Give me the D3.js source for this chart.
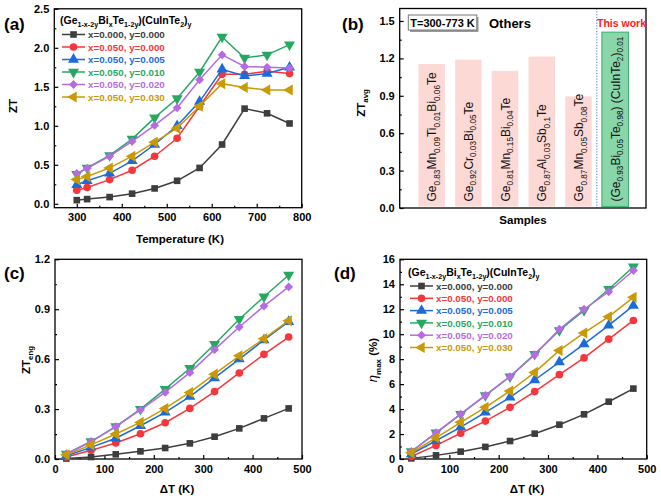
<!DOCTYPE html>
<html>
<head>
<meta charset="utf-8">
<script src="https://cdn.jsdelivr.net/npm/d3@7"></script>
<style>
  html, body { margin: 0; padding: 0; background: #fff; }
  svg { display: block; font-family: "Liberation Sans", Arial, sans-serif; }
</style>
</head>
<body>
<svg id="chart" width="661" height="498"></svg>
<script>
// ---------------- DATA ----------------
const tempK = [300, 323, 373, 423, 473, 523, 573, 623, 673, 723, 773];
const seriesNames = ["x=0.000, y=0.000", "x=0.050, y=0.000", "x=0.050, y=0.005",
                     "x=0.050, y=0.010", "x=0.050, y=0.020", "x=0.050, y=0.030"];
const seriesColors = ["#3d3d3d", "#f5363b", "#1b6bd8", "#27a862", "#b46be3", "#c99a06"];
const seriesSymbols = ["square", "circle", "triUp", "triDown", "diamond", "triLeft"];

// (a) ZT vs temperature
const zt1 = [0.047, 0.06, 0.086, 0.13, 0.197, 0.295, 0.46, 0.76, 1.22, 1.16, 1.03];
const zt2 = [0.175, 0.21, 0.31, 0.43, 0.61, 0.84, 1.25, 1.66, 1.66, 1.70, 1.67];
const zt3 = [0.245, 0.295, 0.39, 0.55, 0.76, 1.00, 1.31, 1.725, 1.64, 1.67, 1.75];
const zt4 = [0.38, 0.46, 0.62, 0.83, 1.105, 1.35, 1.69, 2.14, 1.87, 1.91, 2.04];
const zt5 = [0.39, 0.455, 0.61, 0.80, 1.005, 1.23, 1.59, 1.91, 1.76, 1.75, 1.74];
const zt6 = [0.31, 0.35, 0.46, 0.61, 0.79, 0.97, 1.25, 1.54, 1.49, 1.46, 1.46];

// (b) average ZT comparison
const sampleNames = [
  "Ge_{0.83}Mn_{0.09}Ti_{0.01}Bi_{0.06}Te",
  "Ge_{0.92}Cr_{0.03}Bi_{0.05}Te",
  "Ge_{0.81}Mn_{0.15}Bi_{0.04}Te",
  "Ge_{0.87}Al_{0.03}Sb_{0.1}Te",
  "Ge_{0.87}Mn_{0.05}Sb_{0.08}Te",
  "(Ge_{0.93}Bi_{0.05}Te_{0.98}) (CuInTe_{2})_{0.01}"
];
const ztAvg = [1.155, 1.19, 1.10, 1.215, 0.895, 1.41];

// (c) engineering ZT vs ΔT
const deltaT = [23, 73, 123, 173, 223, 273, 323, 373, 423, 473];
const zte1 = [0.003, 0.012, 0.028, 0.046, 0.066, 0.094, 0.134, 0.184, 0.244, 0.304];
const zte2 = [0.012, 0.052, 0.096, 0.152, 0.218, 0.304, 0.405, 0.517, 0.629, 0.733];
const zte3 = [0.02, 0.07, 0.125, 0.20, 0.28, 0.375, 0.487, 0.60, 0.715, 0.825];
const zte4 = [0.03, 0.105, 0.195, 0.30, 0.42, 0.545, 0.69, 0.84, 0.975, 1.106];
const zte5 = [0.03, 0.105, 0.195, 0.295, 0.40, 0.519, 0.657, 0.793, 0.919, 1.034];
const zte6 = [0.025, 0.085, 0.15, 0.22, 0.304, 0.40, 0.51, 0.62, 0.723, 0.831];

// (d) max efficiency vs ΔT
const eta1 = [0.05, 0.29, 0.59, 0.97, 1.44, 2.03, 2.75, 3.58, 4.59, 5.64];
const eta2 = [0.2, 1.09, 2.06, 3.04, 4.14, 5.4, 6.76, 8.1, 9.6, 11.1];
const eta3 = [0.4, 1.46, 2.56, 3.74, 4.94, 6.33, 7.77, 9.21, 10.71, 12.29];
const eta4 = [0.6, 2.1, 3.6, 5.1, 6.6, 8.4, 10.3, 11.9, 13.6, 15.4];
const eta5 = [0.6, 2.1, 3.6, 5.1, 6.6, 8.35, 10.4, 12.0, 13.4, 15.1];
const eta6 = [0.5, 1.7, 2.94, 4.14, 5.45, 6.94, 8.7, 10.1, 11.4, 12.95];

// tick values
const ticksA_x = [300, 400, 500, 600, 700, 800];
const ticksA_y = [0.0, 0.5, 1.0, 1.5, 2.0, 2.5];
const ticksB_y = [0.0, 0.3, 0.6, 0.9, 1.2, 1.5];
const ticksC_x = [0, 100, 200, 300, 400, 500];
const ticksC_y = [0.0, 0.3, 0.6, 0.9, 1.2];
const ticksD_y = [0, 2, 4, 6, 8, 10, 12, 14, 16];

// ---------------- HELPERS ----------------
const svg = d3.select("#chart");
const FONT_TICK = 11, FONT_TITLE = 11.5;

function rich(textSel, str, size) {
  const re = /_\{([^}]*)\}/g;
  let last = 0, m, shifted = false;
  const sub = size * 0.68, sh = size * 0.3;
  while ((m = re.exec(str)) !== null) {
    if (m.index > last) {
      const t = textSel.append("tspan").text(str.slice(last, m.index)).attr("font-size", size);
      if (shifted) { t.attr("dy", -sh); shifted = false; }
    }
    const s = textSel.append("tspan").text(m[1]).attr("font-size", sub);
    if (!shifted) { s.attr("dy", sh); shifted = true; }
    last = re.lastIndex;
  }
  if (last < str.length) {
    const t = textSel.append("tspan").text(str.slice(last)).attr("font-size", size);
    if (shifted) t.attr("dy", -sh);
  }
  return textSel;
}

function symbolPath(kind, size) {
  const map = {
    square: [d3.symbolSquare, 0], circle: [d3.symbolCircle, 0], triUp: [d3.symbolTriangle, 0],
    triDown: [d3.symbolTriangle, 180], diamond: [d3.symbolSquare, 45], triLeft: [d3.symbolTriangle, -90]
  };
  const [t, rot] = map[kind];
  let s = size;
  if (kind === "square") s = size * 0.95;
  if (kind === "diamond") s = size * 0.85;
  if (kind.startsWith("tri")) s = size * 1.15;
  return { d: d3.symbol().type(t).size(s)(), rot };
}

function frameAxes(g, x, y, opts) {
  const [x0, x1] = x.range(), [y0, y1] = y.range();
  const yAxis = d3.axisLeft(y).tickValues(opts.yTicks).tickSizeInner(-4).tickSizeOuter(0)
    .tickPadding(5).tickFormat(opts.yFmt);
  const ya = g.append("g").attr("transform", `translate(${x0},0)`).call(yAxis);
  const yMinor = d3.axisLeft(y).tickValues(opts.yMinor).tickSizeInner(-2).tickSizeOuter(0).tickFormat("");
  const ym = g.append("g").attr("transform", `translate(${x0},0)`).call(yMinor);
  [ya, ym].forEach(a => { a.select(".domain").remove(); a.selectAll("line").attr("stroke", "#000").attr("stroke-width", 1.2); });
  ya.selectAll("text").attr("font-size", FONT_TICK).attr("font-weight", "bold").attr("fill", "#000")
    .attr("font-family", "Liberation Sans, Arial, sans-serif");
  if (opts.xTicks) {
    const xAxis = d3.axisBottom(x).tickValues(opts.xTicks).tickSizeInner(-4).tickSizeOuter(0)
      .tickPadding(6).tickFormat(d3.format("d"));
    const xa = g.append("g").attr("transform", `translate(0,${y0})`).call(xAxis);
    const xMinor = d3.axisBottom(x).tickValues(opts.xMinor).tickSizeInner(-2).tickSizeOuter(0).tickFormat("");
    const xm = g.append("g").attr("transform", `translate(0,${y0})`).call(xMinor);
    [xa, xm].forEach(a => { a.select(".domain").remove(); a.selectAll("line").attr("stroke", "#000").attr("stroke-width", 1.2); });
    xa.selectAll("text").attr("font-size", FONT_TICK).attr("font-weight", "bold").attr("fill", "#000")
      .attr("font-family", "Liberation Sans, Arial, sans-serif");
  }
  g.append("rect").attr("x", x0).attr("y", y1).attr("width", x1 - x0).attr("height", y0 - y1)
    .attr("fill", "none").attr("stroke", "#000").attr("stroke-width", 1.3);
}

function drawSeries(g, x, y, xs, seriesList) {
  const line = d3.line().x((d, i) => x(xs[i])).y(d => y(d));
  seriesList.forEach((vals, k) => {
    const c = seriesColors[k];
    g.append("path").attr("d", line(vals)).attr("fill", "none").attr("stroke", c).attr("stroke-width", 1.5);
    const sp = symbolPath(seriesSymbols[k], 46);
    g.selectAll(null).data(vals).enter().append("path")
      .attr("d", sp.d)
      .attr("transform", (d, i) => `translate(${x(xs[i])},${y(d)}) rotate(${sp.rot})`)
      .attr("fill", c);
  });
}

function legend(g, x0, titleY, firstY, step) {
  const t = g.append("text").attr("x", x0).attr("y", titleY).attr("font-weight", "bold").attr("fill", "#000");
  rich(t, "(Ge_{1-x-2y}Bi_{x}Te_{1-2y})(CuInTe_{2})_{y}", 10.5);
  seriesNames.forEach((name, k) => {
    const yy = firstY + k * step, c = seriesColors[k];
    g.append("line").attr("x1", x0 + 2).attr("x2", x0 + 25).attr("y1", yy).attr("y2", yy)
      .attr("stroke", c).attr("stroke-width", 1.5);
    const sp = symbolPath(seriesSymbols[k], 46);
    g.append("path").attr("d", sp.d).attr("transform", `translate(${x0 + 13.5},${yy}) rotate(${sp.rot})`).attr("fill", c);
    g.append("text").attr("x", x0 + 28).attr("y", yy + 3.6).attr("font-size", 9.8).attr("font-weight", "bold")
      .attr("fill", c).text(name);
  });
}

function panelLabel(txt, x, y) {
  svg.append("text").attr("x", x).attr("y", y).attr("font-size", 17).attr("font-weight", "bold").attr("fill", "#000").text(txt);
}

function yTitle(str, x, y, size) {
  const t = svg.append("text").attr("transform", `translate(${x},${y}) rotate(-90)`)
    .attr("text-anchor", "middle").attr("font-weight", "bold").attr("fill", "#000");
  rich(t, str, size);
  return t;
}
function xTitle(str, x, y) {
  svg.append("text").attr("x", x).attr("y", y).attr("text-anchor", "middle").attr("font-size", FONT_TITLE)
    .attr("font-weight", "bold").attr("fill", "#000").text(str);
}

// ---------------- PANEL (a) ----------------
{
  const g = svg.append("g");
  const x = d3.scaleLinear().domain([250, 800]).range([54.3, 301.7]);
  const y = d3.scaleLinear().domain([-0.05, 2.5]).range([207.7, 8.8]);
  frameAxes(g, x, y, {
    yTicks: ticksA_y, yMinor: [0.25, 0.75, 1.25, 1.75, 2.25], yFmt: d3.format(".1f"),
    xTicks: ticksA_x, xMinor: [350, 450, 550, 650, 750]
  });
  drawSeries(g, x, y, tempK, [zt1, zt2, zt3, zt4, zt5, zt6]);
  legend(g, 60, 24, 34.5, 12.5);
  panelLabel("(a)", 4, 30);
  yTitle("ZT", 17, 106, FONT_TITLE);
  xTitle("Temperature (K)", 180, 242.5);
}

// ---------------- PANEL (b) ----------------
{
  const g = svg.append("g");
  const idx = d3.range(1, sampleNames.length + 1);
  const x = d3.scaleLinear().domain([0.13, 6.84]).range([399.7, 646]);
  const y = d3.scaleLinear().domain([0, 1.6]).range([208, 8.5]);
  const bw = 26.5;
  g.selectAll(null).data(ztAvg).enter().append("rect")
    .attr("x", (d, i) => x(idx[i]) - bw / 2)
    .attr("y", d => y(d))
    .attr("width", bw)
    .attr("height", d => y(0) - y(d) - 1.5)
    .attr("fill", (d, i) => i === 5 ? "#8ad6ab" : "#fdd9d6")
    .attr("stroke", (d, i) => i === 5 ? "#45b774" : "none")
    .attr("stroke-width", 1.2);
  g.append("line").attr("x1", x(5.5)).attr("x2", x(5.5)).attr("y1", y(1.6)).attr("y2", y(0))
    .attr("stroke", "#3f7ad0").attr("stroke-width", 1).attr("stroke-dasharray", "1.2,1.6");
  sampleNames.forEach((name, i) => {
    const t = g.append("text").attr("transform", `translate(${x(idx[i]) + 4.5},201.5) rotate(-90)`)
      .attr("fill", "#111");
    rich(t, name, 12);
  });
  frameAxes(g, x, y, { yTicks: ticksB_y, yMinor: [0.15, 0.45, 0.75, 1.05, 1.35], yFmt: d3.format(".1f") });
  g.append("rect").attr("x", 410).attr("y", 17).attr("width", 68.5).attr("height", 15).attr("fill", "#9a9a9a");
  g.append("rect").attr("x", 408.3).attr("y", 15).attr("width", 68.5).attr("height", 15)
    .attr("fill", "#fff").attr("stroke", "#777").attr("stroke-width", 1);
  g.append("text").attr("x", 442.5).attr("y", 26.5).attr("text-anchor", "middle").attr("font-size", 11)
    .attr("font-weight", "bold").attr("fill", "#000").text("T=300-773 K");
  g.append("text").attr("x", 489).attr("y", 27.5).attr("font-size", 13).attr("font-weight", "bold")
    .attr("fill", "#000").text("Others");
  g.append("text").attr("x", 621.5).attr("y", 26.5).attr("text-anchor", "middle").attr("font-size", 10.5)
    .attr("font-weight", "bold").attr("fill", "#ff1a1a").text("This work");
  panelLabel("(b)", 342, 30);
  yTitle("ZT_{avg}", 365, 103, FONT_TITLE);
  xTitle("Samples", 523, 224);
}

// ---------------- PANEL (c) ----------------
{
  const g = svg.append("g");
  const x = d3.scaleLinear().domain([0, 500]).range([55, 302]);
  const y = d3.scaleLinear().domain([0, 1.2]).range([459, 259.3]);
  frameAxes(g, x, y, {
    yTicks: ticksC_y, yMinor: [0.15, 0.45, 0.75, 1.05], yFmt: d3.format(".1f"),
    xTicks: ticksC_x, xMinor: [50, 150, 250, 350, 450]
  });
  drawSeries(g, x, y, deltaT, [zte1, zte2, zte3, zte4, zte5, zte6]);
  panelLabel("(c)", 4, 279);
  yTitle("ZT_{eng}", 29.5, 360, FONT_TITLE);
  xTitle("ΔT (K)", 177, 492.5);
}

// ---------------- PANEL (d) ----------------
{
  const g = svg.append("g");
  const x = d3.scaleLinear().domain([0, 500]).range([400, 646.7]);
  const y = d3.scaleLinear().domain([0, 16]).range([459, 259.3]);
  frameAxes(g, x, y, {
    yTicks: ticksD_y, yMinor: [1, 3, 5, 7, 9, 11, 13, 15], yFmt: d3.format("d"),
    xTicks: ticksC_x, xMinor: [50, 150, 250, 350, 450]
  });
  drawSeries(g, x, y, deltaT, [eta1, eta2, eta3, eta4, eta5, eta6]);
  legend(g, 408, 275.5, 286, 12.3);
  panelLabel("(d)", 334, 279);
  const t = svg.append("text").attr("transform", `translate(377,360) rotate(-90)`)
    .attr("text-anchor", "middle").attr("font-weight", "bold").attr("fill", "#000");
  t.append("tspan").attr("font-style", "italic").attr("font-weight", "normal").attr("font-size", 13).text("η");
  t.append("tspan").attr("font-size", 8).attr("dy", 3.5).text("max");
  t.append("tspan").attr("font-size", FONT_TITLE).attr("dy", -3.5).text(" (%)");
  xTitle("ΔT (K)", 527, 492.5);
}
</script>
</body>
</html>
